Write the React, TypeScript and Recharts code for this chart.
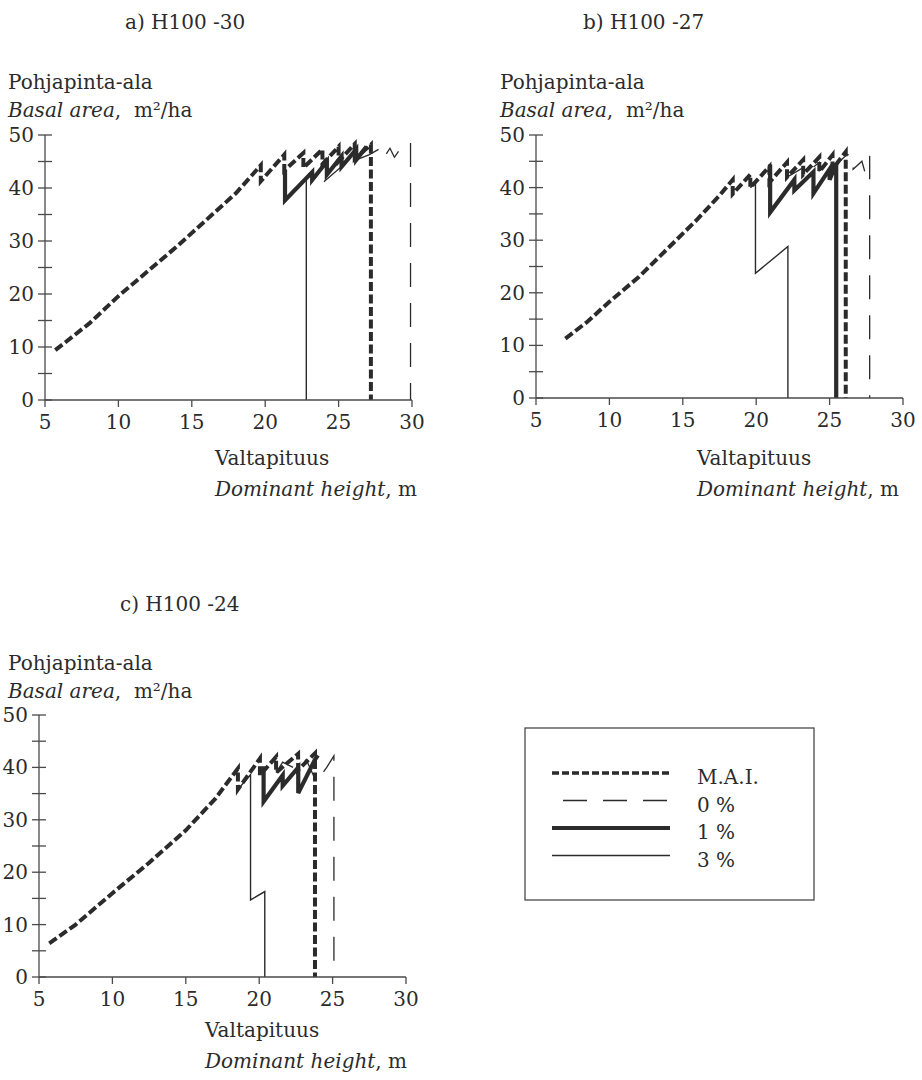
import { LineChart, Line, XAxis, YAxis } from "recharts";

type Pt = [number, number];

const X_TICKS = [5, 10, 15, 20, 25, 30];
const Y_TICKS = [0, 5, 10, 15, 20, 25, 30, 35, 40, 45, 50];

// a) H100 -30
const A_MAI: Pt[] = [
  [5.7, 9.4], [8, 14.4], [10, 19.6], [12, 24.3], [14, 29], [16, 34], [18, 39],
  [19.7, 44.3], [19.7, 41.3], [21.3, 46.3], [21.3, 43.3], [22.6, 46.6], [22.6, 43.8],
  [23.9, 47.3], [23.9, 44.5], [25.0, 47.8], [25.0, 45], [26.1, 48.3], [26.1, 45.5],
  [27.2, 48.2], [27.2, 0],
];
const A_P0: Pt[] = [
  [24.0, 41.2], [25.1, 43.8], [26.1, 45.2], [27.1, 46.3], [27.85, 47.5], [28.1, 45.8],
  [28.5, 47.5], [28.8, 45.8], [29.3, 47.8], [29.9, 48.6], [29.9, 0],
];
const A_P1: Pt[] = [
  [21.35, 43.3], [21.35, 37.7], [23.2, 43], [23.2, 41.5], [24.2, 45], [24.2, 42.5],
  [25.2, 46], [25.2, 44], [26.2, 47.3], [26.2, 45.3], [26.9, 47.8],
];
const A_P3: Pt[] = [[21.35, 37.7], [22.8, 42], [22.8, 0]];

// b) H100 -27
const B_MAI: Pt[] = [
  [7.0, 11.3], [8.5, 14.5], [10, 18.3], [12, 23], [14, 28.5], [16, 34], [17.5, 38.5],
  [18.4, 41.5], [18.4, 38.8], [19.6, 42.5], [19.6, 40], [20.9, 44], [20.9, 41],
  [22.1, 44.8], [22.1, 42], [23.2, 45.3], [23.2, 42.5], [24.3, 45.8], [24.3, 43],
  [25.2, 46.2], [25.2, 43.5], [26.1, 46.8], [26.1, 0],
];
const B_P0: Pt[] = [
  [22.1, 42], [23.2, 43.8], [23.2, 42.3], [24.3, 44.8], [24.3, 43.2], [25.2, 45.5],
  [25.2, 43.8], [26.2, 46.3], [26.6, 46], [26.6, 43.5], [27.2, 45], [27.4, 43],
  [27.73, 46], [27.73, 0],
];
const B_P1: Pt[] = [
  [20.95, 44.4], [20.95, 35.3], [22.6, 41.5], [22.6, 39.5], [23.9, 43], [23.9, 38.9],
  [25.0, 43.5], [25.0, 41.5], [25.45, 44.5], [25.45, 0],
];
const B_P3: Pt[] = [[19.6, 40], [19.95, 40.8], [19.95, 23.7], [22.16, 28.8], [22.16, 0]];

// c) H100 -24
const C_MAI: Pt[] = [
  [5.7, 6.4], [7.5, 10], [10, 16], [12.5, 21.8], [15, 28], [17, 34], [18.55, 39.8],
  [18.55, 35.8], [20.05, 41.7], [20.05, 38.5], [21.15, 42.0], [21.15, 39],
  [22.65, 42.6], [22.65, 39.5], [23.8, 42.7], [23.8, 0],
];
const C_P0: Pt[] = [
  [21.15, 39], [21.6, 41], [22.65, 39.5], [23.2, 41.5], [23.9, 37.2], [24.6, 40],
  [25.09, 42.2], [25.09, 0],
];
const C_P1: Pt[] = [
  [20.3, 40.2], [20.3, 33.5], [21.6, 38.5], [21.6, 36.5], [22.66, 40], [22.66, 35.1],
  [23.8, 41.5], [24.0, 42.3],
];
const C_P3: Pt[] = [[18.55, 35.8], [19.41, 38.6], [19.41, 14.7], [20.38, 16.3], [20.38, 0]];

const INK = "#2b2b2b";
const AXIS = "#4a4a4a";
const FONT = "'DejaVu Serif', serif";
const FS = 20;

const SERIES = [
  { key: "mai", name: "M.A.I.", width: 4, dash: "9 3.5" },
  { key: "p0", name: "0 %", width: 1.3, dash: "24 16" },
  { key: "p1", name: "1 %", width: 4.2, dash: undefined },
  { key: "p3", name: "3 %", width: 1.4, dash: undefined },
];

const toRows = (pts: Pt[]) => pts.map(([x, y]) => ({ x, y }));

function YTick({ x, y, payload }: any) {
  const major = payload.value % 10 === 0;
  return (
    <g>
      <line x1={x - 7} x2={x + 7} y1={y} y2={y} stroke={AXIS} strokeWidth={1.3} />
      {major && (
        <text x={x - 11} y={y + 7} textAnchor="end" fontFamily={FONT} fontSize={FS} fill={INK}>
          {payload.value}
        </text>
      )}
    </g>
  );
}

function XTick({ x, y, payload }: any) {
  return (
    <g>
      <line x1={x} x2={x} y1={y} y2={y + 7} stroke={AXIS} strokeWidth={1.3} />
      <text x={x} y={y + 29} textAnchor="middle" fontFamily={FONT} fontSize={FS} fill={INK}>
        {payload.value}
      </text>
    </g>
  );
}

function Panel({
  data,
  width,
  height,
  yWidth,
  right,
}: {
  data: Pt[][];
  width: number;
  height: number;
  yWidth: number;
  right: number;
}) {
  return (
    <LineChart width={width} height={height} margin={{ top: 135, right, left: 0, bottom: 0 }}>
      <XAxis
        type="number"
        dataKey="x"
        domain={[5, 30]}
        ticks={X_TICKS}
        allowDataOverflow
        height={40}
        tickSize={0}
        tickMargin={0}
        tick={<XTick />}
        axisLine={{ stroke: AXIS, strokeWidth: 1.3 }}
        interval={0}
      />
      <YAxis
        type="number"
        dataKey="y"
        domain={[0, 50]}
        ticks={Y_TICKS}
        width={yWidth}
        tickSize={0}
        tickMargin={0}
        tick={<YTick />}
        axisLine={{ stroke: AXIS, strokeWidth: 1.3 }}
        interval={0}
      />
      {SERIES.map((s, i) => (
        <Line
          key={s.key}
          data={toRows(data[i])}
          dataKey="y"
          name={s.name}
          type="linear"
          stroke={INK}
          strokeWidth={s.width}
          strokeDasharray={s.dash}
          strokeLinejoin="miter"
          dot={false}
          activeDot={false}
          isAnimationActive={false}
        />
      ))}
    </LineChart>
  );
}

const txt = (left: number, top: number): React.CSSProperties => ({
  position: "absolute",
  left,
  top,
  fontFamily: FONT,
  fontSize: FS,
  lineHeight: "28px",
  color: INK,
  whiteSpace: "nowrap",
});

function YLabel({ left, top }: { left: number; top: number }) {
  return (
    <>
      <div style={txt(left, top)}>Pohjapinta-ala</div>
      <div style={txt(left, top + 28)}>
        <i>Basal area</i>,&nbsp;&nbsp;m²/ha
      </div>
    </>
  );
}

function XLabel({ left, top }: { left: number; top: number }) {
  return (
    <>
      <div style={txt(left, top)}>Valtapituus</div>
      <div style={txt(left, top + 31)}>
        <i>Dominant height</i>, m
      </div>
    </>
  );
}

function LegendBox() {
  return (
    <svg width={292} height={174} style={{ position: "absolute", left: 524, top: 727 }}>
      <rect x={1} y={1} width={289} height={172} fill="none" stroke={AXIS} strokeWidth={1.3} />
      {SERIES.map((s, i) => {
        const y = 46 + i * 27.5;
        return (
          <g key={s.key}>
            <line
              x1={s.key === "p0" ? 39 : 28}
              x2={146}
              y1={y}
              y2={y}
              stroke={INK}
              strokeWidth={s.key === "mai" ? 3.5 : s.width}
              strokeDasharray={s.key === "mai" ? "7 3" : s.dash}
            />
            <text x={173} y={y + 11} fontFamily={FONT} fontSize={FS} fill={INK}>
              {s.name}
            </text>
          </g>
        );
      })}
    </svg>
  );
}

export default function App() {
  return (
    <div style={{ position: "absolute", left: 0, top: 0, width: 922, height: 1080, background: "#fff" }}>
      <div style={txt(125, 8)}>a) H100 -30</div>
      <div style={txt(583, 8)}>b) H100 -27</div>
      <div style={txt(120, 590)}>c) H100 -24</div>

      <YLabel left={8} top={68} />
      <YLabel left={500} top={68} />
      <YLabel left={8} top={649} />

      <div style={{ position: "absolute", left: 0, top: 0 }}>
        <Panel data={[A_MAI, A_P0, A_P1, A_P3]} width={440} height={440} yWidth={45} right={28} />
      </div>
      <div style={{ position: "absolute", left: 490, top: 0 }}>
        <Panel data={[B_MAI, B_P0, B_P1, B_P3]} width={432} height={438} yWidth={46} right={19} />
      </div>
      <div style={{ position: "absolute", left: 0, top: 580 }}>
        <Panel data={[C_MAI, C_P0, C_P1, C_P3]} width={440} height={437} yWidth={39} right={34} />
      </div>

      <XLabel left={215} top={444} />
      <XLabel left={697} top={444} />
      <XLabel left={205} top={1016} />

      <LegendBox />
    </div>
  );
}
